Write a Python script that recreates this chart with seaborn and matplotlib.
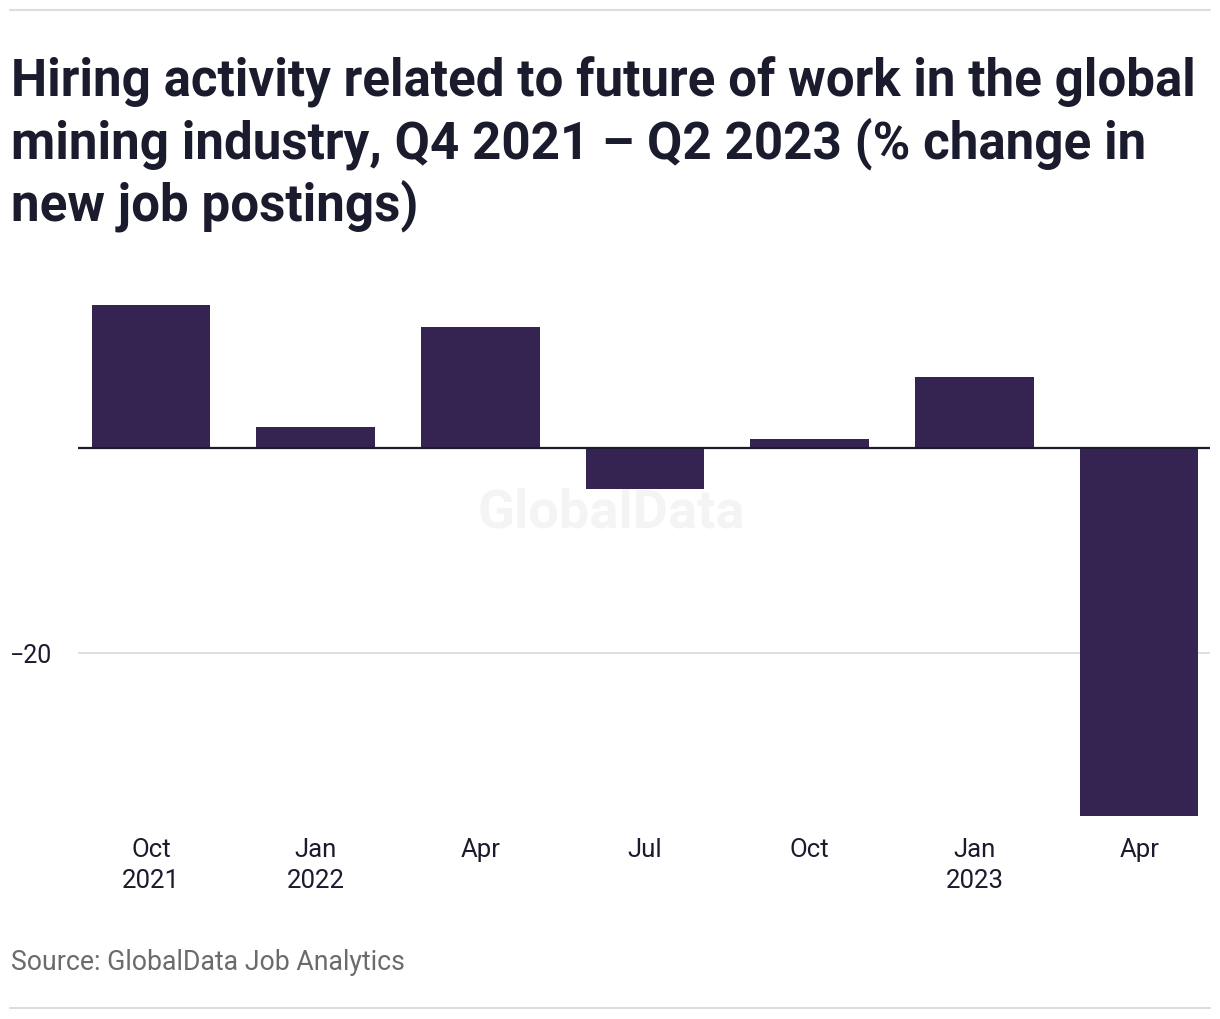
import matplotlib
matplotlib.use("Agg")
import matplotlib.pyplot as plt
import seaborn as sns
import pandas as pd

# ---- data ----
periods = ["Oct 2021", "Jan 2022", "Apr 2022", "Jul 2022", "Oct 2022", "Jan 2023", "Apr 2023"]
tick_labels = ["Oct\n2021", "Jan\n2022", "Apr", "Jul", "Oct", "Jan\n2023", "Apr"]
pct_change = [13.9, 2.0, 11.8, -4.0, 0.9, 6.9, -35.9]
y_ticks = [-20]
y_tick_labels = ["\u221220"]
title_lines = ["Hiring activity related to future of work in the global",
               "mining industry, Q4 2021 \u2013 Q2 2023 (% change in",
               "new job postings)"]
source = "Source: GlobalData Job Analytics"

df = pd.DataFrame({"period": periods, "value": pct_change})

sns.set_theme(style="white")
plt.rcParams["font.family"] = ["Roboto", "DejaVu Sans"]

W, H = 1220, 1020
fig = plt.figure(figsize=(W / 100, H / 100), dpi=100)
fig.patch.set_facecolor("white")

def fx(px):
    return px / W

def fy(py):
    return 1 - py / H

ax = fig.add_axes([fx(78), fy(817), fx(1210) - fx(78), fy(290) - fy(817)])
ax.set_facecolor("none")

# watermark (drawn beneath the bars)
ax.text(fx(611), fy(513), "GlobalData", fontsize=39, fontweight="bold",
        color="#f4f4f4", ha="center", va="center", zorder=0.5,
        transform=fig.transFigure, clip_on=False)

# gridline
for t in y_ticks:
    ax.axhline(t, color="#dcdcdc", lw=1.3, zorder=0)

sns.barplot(data=df, x="period", y="value", color="#352451", saturation=1,
            width=0.72, errorbar=None, linewidth=0, ax=ax, zorder=2)

ax.axhline(0, color="#1b1b2e", lw=1.6, zorder=3)

ax.set_xlim(-0.443, 6.43)
ax.set_ylim(-35.9, 15.5)
ax.set_yticks(y_ticks)
ax.set_yticklabels(y_tick_labels, fontsize=18, color="#1b1b2e")
ax.set_xticks(range(len(periods)))
ax.set_xticklabels(tick_labels, fontsize=18.5, color="#1b1b2e", linespacing=1.4)
ax.tick_params(axis="x", length=0, pad=15)
for lab in ax.get_yticklabels():
    lab.set_horizontalalignment("left")
ax.tick_params(axis="y", length=0, pad=49)
ax.set_xlabel("")
ax.set_ylabel("")
for s in ax.spines.values():
    s.set_visible(False)

# title
baselines = [96, 158, 220]
for line, b in zip(title_lines, baselines):
    fig.text(fx(11), fy(b), line, fontsize=36.8, fontweight="bold",
             color="#1b1b2e", ha="left", va="baseline")

fig.text(fx(11), fy(970), source, fontsize=19.2, color="#6b6b6b",
         ha="left", va="baseline")

# rules top and bottom
fig.add_artist(plt.Line2D([fx(10), fx(1210)], [fy(11), fy(11)], color="#dddddd", lw=1.5))
fig.add_artist(plt.Line2D([fx(10), fx(1210)], [fy(1009), fy(1009)], color="#dddddd", lw=1.5))

fig.savefig("out.png", dpi=100, facecolor="white")
